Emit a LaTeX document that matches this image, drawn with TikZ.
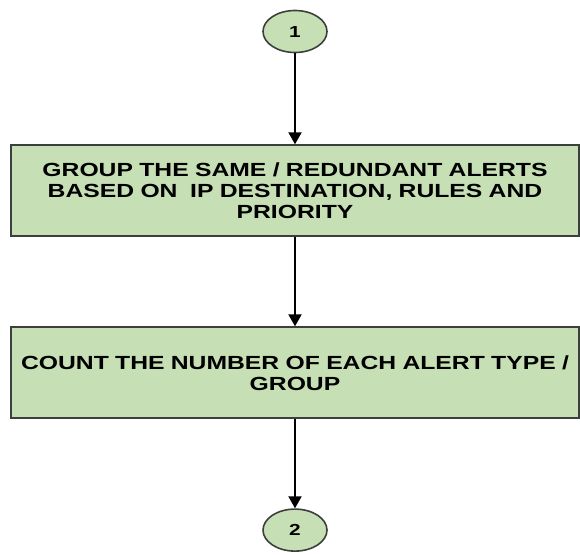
\documentclass[tikz,border=0pt]{standalone}
\usepackage{fontspec}
\usepackage{xcolor}
\usetikzlibrary{arrows.meta, positioning, shapes.geometric}
\newfontfamily\boxfont{Liberation Sans}[FakeStretch=1.3]
\definecolor{stepgreen}{RGB}{199,223,180}
\definecolor{stepline}{RGB}{60,64,60}

\begin{document}
\begin{tikzpicture}[
        x=1pt, y=1pt,
        font=\boxfont\bfseries,
        stepbox/.style={rectangle, draw=stepline, line width=2pt, fill=stepgreen,
            minimum width=567pt, minimum height=91pt, text width=562pt, align=center,
            font=\boxfont\bfseries\fontsize{19}{21}\selectfont},
        connector/.style={ellipse, draw=stepline, line width=1.6pt, fill=stepgreen,
            minimum width=64pt, minimum height=42pt, inner sep=0pt,
            font=\boxfont\bfseries\fontsize{16}{18}\selectfont},
        flow/.style={-{Triangle[length=12pt, width=13pt]}, line width=2pt, black}
    ]
        \useasboundingbox (0,0) rectangle (580,-554);
        \node[connector] (start) at (295,-31.5) {1};
        \node[stepbox, below=91pt of start] (grouping) {GROUP THE SAME / REDUNDANT ALERTS\\
            BASED ON\ \ IP DESTINATION, RULES AND\\ PRIORITY};
        \node[stepbox, below=89pt of grouping] (counting) {COUNT THE NUMBER OF EACH ALERT TYPE /\\ GROUP};
        \node[connector, below=89pt of counting] (next) {2};

        % Flow between the steps
        \draw[flow] (start) -- (grouping);
        \draw[flow] (grouping) -- (counting);
        \draw[flow] (counting) -- (next);
    \end{tikzpicture}
\end{document}
